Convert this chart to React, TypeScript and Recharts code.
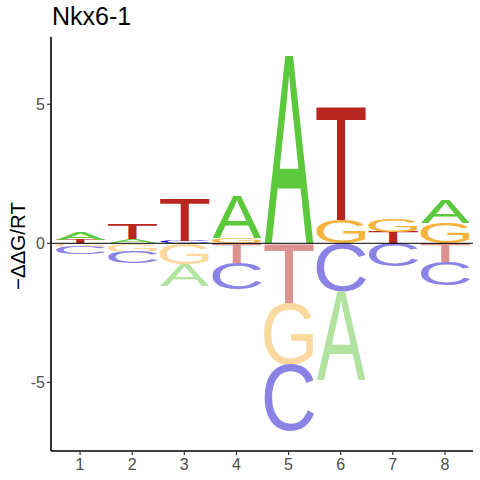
import React from "react";
import { BarChart, Bar, XAxis, YAxis, ReferenceLine } from "recharts";

const positions = ["1", "2", "3", "4", "5", "6", "7", "8"];
const letters = ["A", "C", "G", "T"];
const valuesA = [0.25, 0.15, -0.78, 1.5, 6.74, -3.18, 0, 0.8];
const valuesC = [-0.26, -0.4, 0.07, -0.93, -2.4, -1.73, -0.84, -0.84];
const valuesG = [-0.12, -0.3, -0.75, 0.2, -2.24, 0.83, 0.48, 0.74];
const valuesT = [0.13, 0.56, 1.52, -0.72, -2.13, 4.05, 0.4, -0.69];
const yTicks = [-5, 0, 5];
const title = "Nkx6-1";
const yLabel = "\u2212\u0394\u0394G/RT";

const posColors: Record<string, string> = { A: "#5cc83b", C: "#1a0ac8", G: "#f5b33c", T: "#b8261e" };
const negColors: Record<string, string> = { A: "#b2e2a0", C: "#8a82e4", G: "#fad89e", T: "#dc928f" };

// glyph bounding boxes (font units / 2048) for Liberation Sans regular
const glyphBox: Record<string, [number, number, number, number]> = {
  A: [-3, 1369, 0, 1409],
  C: [100, 1390, -24, 1433],
  G: [108, 1460, -24, 1433],
  T: [48, 1204, 0, 1409],
};

const valueMap: Record<string, number[]> = { A: valuesA, C: valuesC, G: valuesG, T: valuesT };

const slots = [0, 1, 2, 3];

const rows = positions.map((pos, i) => {
  const entries = letters.map((L) => ({ letter: L, value: valueMap[L][i] }));
  const pos_ = entries.filter((e) => e.value > 0).sort((a, b) => a.value - b.value);
  const neg_ = entries.filter((e) => e.value < 0).sort((a, b) => b.value - a.value);
  const row: Record<string, any> = { pos };
  slots.forEach((k) => {
    row["p" + k] = pos_[k] ? pos_[k].value : 0;
    row["pL" + k] = pos_[k] ? pos_[k].letter : "";
    row["n" + k] = neg_[k] ? neg_[k].value : 0;
    row["nL" + k] = neg_[k] ? neg_[k].letter : "";
  });
  return row;
});

const FS = 100;

function renderLetter(props: any, key: string, neg: boolean) {
  let { x, y, width, height, payload } = props;
  if (height < 0) {
    y = y + height;
    height = -height;
  }
  const letter = payload ? payload[(neg ? "nL" : "pL") + key] : "";
  if (!letter || !(height > 0.05)) return <g />;
  const [xMin, xMax, yMin, yMax] = glyphBox[letter];
  const k = FS / 2048;
  const sx = width / ((xMax - xMin) * k);
  const sy = height / ((yMax - yMin) * k);
  const tx = x - xMin * k * sx;
  const ty = y + yMax * k * sy;
  return (
    <text
      x={0}
      y={0}
      fontSize={FS}
      fontFamily="Liberation Sans"
      fill={neg ? negColors[letter] : posColors[letter]}
      transform={`translate(${tx},${ty}) scale(${sx},${sy})`}
    >
      {letter}
    </text>
  );
}

export default function App() {
  return (
    <div style={{ position: "absolute", left: 0, top: 0, width: 480, height: 480, background: "#fff" }}>
      <BarChart
        width={480}
        height={480}
        data={rows}
        stackOffset="sign"
        barSize={49}
        margin={{ top: 37, right: 7, bottom: 0, left: 0 }}
      >
        <XAxis
          dataKey="pos"
          padding={{ left: 3, right: 2 }}
          height={29}
          interval={0}
          tickSize={4}
          tickMargin={4}
          axisLine={{ stroke: "#000", strokeWidth: 1.6 }}
          tickLine={{ stroke: "#333", strokeWidth: 1.2 }}
          tick={{ fill: "#4d4d4d", fontSize: 16, fontFamily: "Liberation Sans" }}
        />
        <YAxis
          type="number"
          domain={[-7.47, 7.42]}
          ticks={yTicks}
          allowDataOverflow
          width={51}
          tickSize={4}
          tickMargin={2}
          axisLine={{ stroke: "#000", strokeWidth: 1.6 }}
          tickLine={{ stroke: "#333", strokeWidth: 1.2 }}
          tick={{ fill: "#4d4d4d", fontSize: 16, fontFamily: "Liberation Sans" }}
        />
        {slots.map((k) => (
          <Bar
            key={"p" + k}
            dataKey={"p" + k}
            stackId="s"
            isAnimationActive={false}
            shape={(p: any) => renderLetter(p, String(k), false)}
          />
        ))}
        {slots.map((k) => (
          <Bar
            key={"n" + k}
            dataKey={"n" + k}
            stackId="s"
            isAnimationActive={false}
            shape={(p: any) => renderLetter(p, String(k), true)}
          />
        ))}
        <ReferenceLine y={0} stroke="#000" strokeWidth={1} />
      </BarChart>
      <svg
        width={480}
        height={480}
        style={{ position: "absolute", left: 0, top: 0, pointerEvents: "none" }}
      >
        <text x={52} y={25} fontSize={25} fontFamily="Liberation Sans" fill="#000">
          {title}
        </text>
        <text
          x={0}
          y={0}
          fontSize={20.5}
          fontFamily="Liberation Sans"
          fill="#000"
          textAnchor="middle"
          transform="translate(25,246) rotate(-90)"
        >
          {yLabel}
        </text>
      </svg>
    </div>
  );
}
